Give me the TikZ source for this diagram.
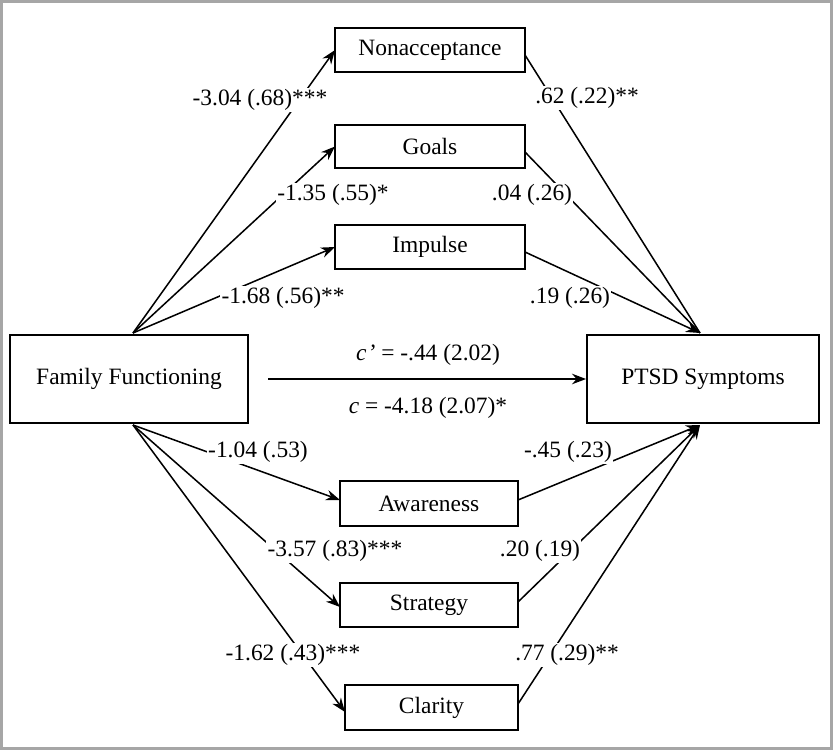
\documentclass[tikz,border=0pt]{standalone}
\usepackage{fontspec}
\setmainfont{Liberation Serif}
\usetikzlibrary{arrows.meta}
\begin{document}
\begin{tikzpicture}[x=0.03cm,y=-0.03cm,
  box/.style={draw,line width=1.6pt,inner sep=0pt,fill=white,font=\fontsize{20}{23}\selectfont},
  lab/.style={font=\fontsize{20}{23}\selectfont,inner sep=1pt,fill=white},
  arr/.style={line width=1.3pt,-{Stealth[length=12pt,width=9pt]}},
  ln/.style={line width=1.3pt}]
\useasboundingbox (0,0) rectangle (833,750);
\draw[line width=3pt,gray!70] (1.5,1.5) rectangle (831.5,748.5);
\coordinate (fft) at (133,333);
\coordinate (ffb) at (133,425);
\coordinate (ptt) at (700,333);
\coordinate (ptb) at (700,425);
\coordinate (a1) at (335,50);
\coordinate (b1) at (335,146.5);
\coordinate (c1) at (335,247);
\coordinate (d1) at (340,500);
\coordinate (e1) at (340,607);
\coordinate (f1) at (345,712);
\draw[arr] (fft) -- (a1);
\draw[arr] (fft) -- (b1);
\draw[arr] (fft) -- (c1);
\draw[arr] (ffb) -- (d1);
\draw[arr] (ffb) -- (e1);
\draw[arr] (ffb) -- (f1);
\draw[ln] (525,55) -- (ptt);
\draw[ln] (525,152) -- (ptt);
\draw[arr] (525,252) -- (ptt);
\draw[arr] (518,500) -- (ptb);
\draw[arr] (518,602) -- (ptb);
\draw[arr] (518,704) -- (ptb);
\node[lab] at (260,100) {-3.04 (.68)***};
\node[lab] at (587,98) {.62 (.22)**};
\node[lab] at (333,195) {-1.35 (.55)*};
\node[lab] at (532,195) {.04 (.26)};
\node[lab] at (283,298) {-1.68 (.56)**};
\node[lab] at (570,298) {.19 (.26)};
\node[lab] at (258,452) {-1.04 (.53)};
\node[lab] at (568,452) {-.45 (.23)};
\node[lab] at (335,551) {-3.57 (.83)***};
\node[lab] at (540,551) {.20 (.19)};
\node[lab] at (293,655) {-1.62 (.43)***};
\node[lab] at (567,655) {.77 (.29)**};
\node[box,minimum width=5.7cm,minimum height=1.32cm] (a) at (430,50) {Nonacceptance};
\node[box,minimum width=5.7cm,minimum height=1.29cm] (b) at (430,146.5) {Goals};
\node[box,minimum width=5.7cm,minimum height=1.32cm] (c) at (430,247) {Impulse};
\node[box,minimum width=7.14cm,minimum height=2.64cm] (ff) at (129,379) {Family Functioning};
\node[box,minimum width=6.96cm,minimum height=2.64cm] (pt) at (703,379) {PTSD Symptoms};
\node[box,minimum width=5.34cm,minimum height=1.35cm] (d) at (429,503.5) {Awareness};
\node[box,minimum width=5.34cm,minimum height=1.32cm] (e) at (429,605) {Strategy};
\node[box,minimum width=5.19cm,minimum height=1.35cm] (f) at (431.5,707.5) {Clarity};
\draw[arr] (268,379) -- (pt.west);
\node[lab] at (428,355) {\textit{c\kern1pt’} = -.44 (2.02)};
\node[lab] at (428,408) {\textit{c} = -4.18 (2.07)*};
\end{tikzpicture}
\end{document}
